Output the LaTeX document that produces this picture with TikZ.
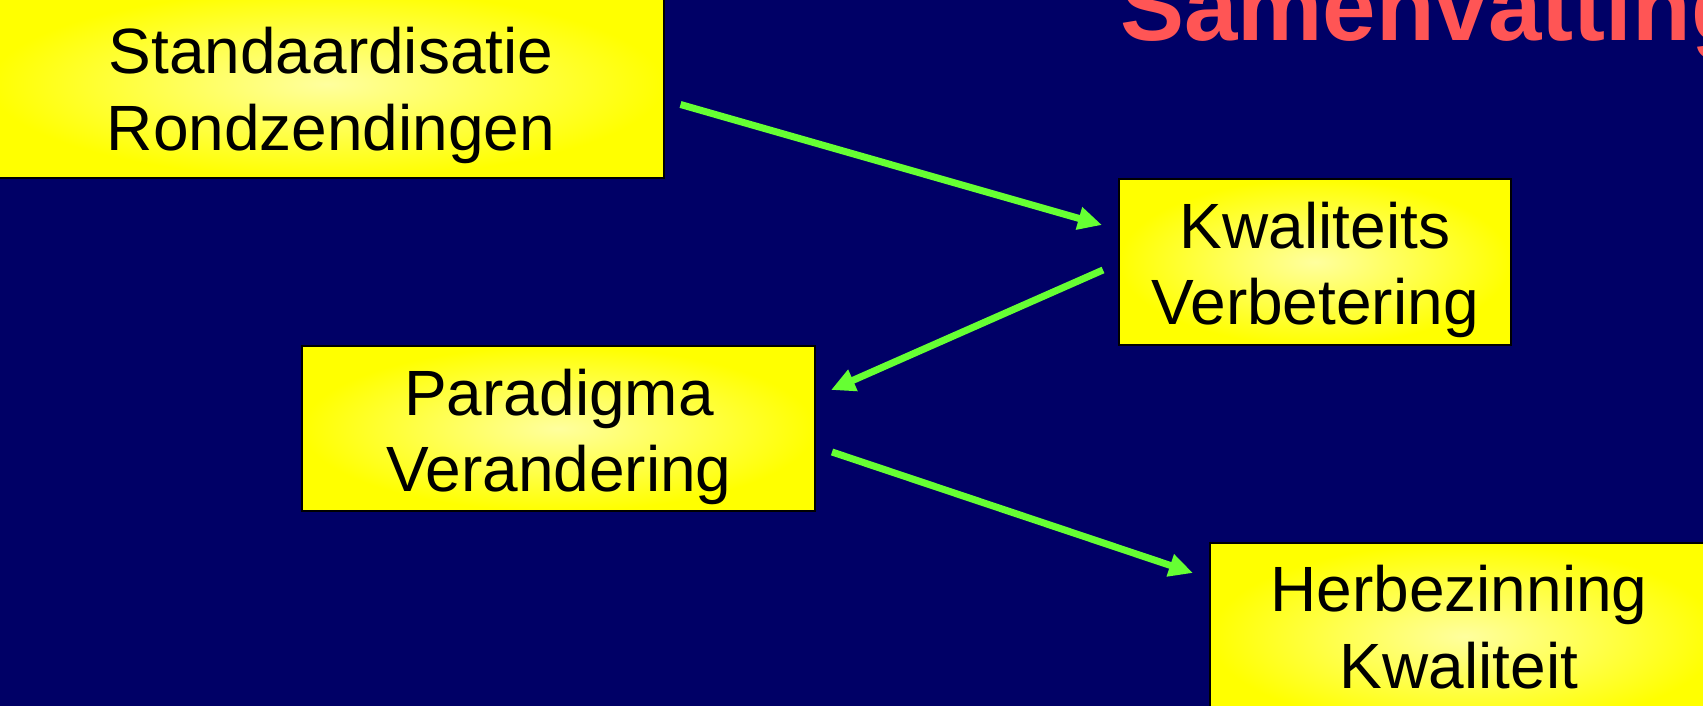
\documentclass[tikz,border=0pt]{standalone}
\usepackage{fontspec}
\setmainfont{Liberation Sans}
\usetikzlibrary{arrows.meta}
\definecolor{bgnavy}{HTML}{000066}
\definecolor{arrgreen}{HTML}{66FF33}
\definecolor{titlered}{HTML}{FF5555}
\definecolor{lightyel}{HTML}{FFFF9E}
\definecolor{boxyel}{HTML}{FFFF00}
\tikzset{
  boxshape/.style={draw=black, line width=2pt, shading=radial, inner color=lightyel, outer color=boxyel, inner sep=0pt},
  boxtext/.style={anchor=base, inner sep=0pt, font=\fontsize{64}{76.5}\selectfont},
  flow/.style={draw=arrgreen, line width=7pt, -{Triangle[length=24pt,width=22pt]}}
}
\newcommand{\twolines}[2]{\begin{tabular}[t]{@{}c@{}}#1\\#2\end{tabular}}
\begin{document}
\begin{tikzpicture}[x=1pt,y=-1pt]
\useasboundingbox (0,0) rectangle (1703,706);
\clip (0,0) rectangle (1703,706);
\fill[bgnavy] (-5,-5) rectangle (1710,712);

% title
\node[anchor=base west, inner sep=0pt, text=titlered, font=\fontsize{96}{110}\selectfont\bfseries] (title) at (1120,41) {Samenvatting};

% boxes
\node[boxshape, minimum width=674pt, minimum height=188pt] (b1) at (327,84) {};
\node[boxshape, minimum width=392pt, minimum height=166pt] (b2) at (1315,262) {};
\node[boxshape, minimum width=513pt, minimum height=165pt] (b3) at (558.5,428.5) {};
\node[boxshape, minimum width=510pt, minimum height=187pt] (b4) at (1465,636.5) {};

% texts
\node[boxtext] (t1) at (331,74) {\twolines{Standaardisatie}{Rondzendingen}};
\node[boxtext] (t2) at (1315,248) {\twolines{Kwaliteits}{Verbetering}};
\node[boxtext] (t3) at (559,415) {\twolines{Paradigma}{Verandering}};
\node[boxtext] (t4) at (1459,611.5) {\twolines{Herbezinning}{Kwaliteit}};

% connector ends
\coordinate (a1s) at (680.5,104.5);
\coordinate (a1e) at (1102,225);
\coordinate (a2s) at (1103,270);
\coordinate (a2e) at (831,390);
\coordinate (a3s) at (832,452);
\coordinate (a3e) at (1193,573);

\draw[flow] (a1s) -- (a1e);
\draw[flow] (a2s) -- (a2e);
\draw[flow] (a3s) -- (a3e);
\end{tikzpicture}
\end{document}
